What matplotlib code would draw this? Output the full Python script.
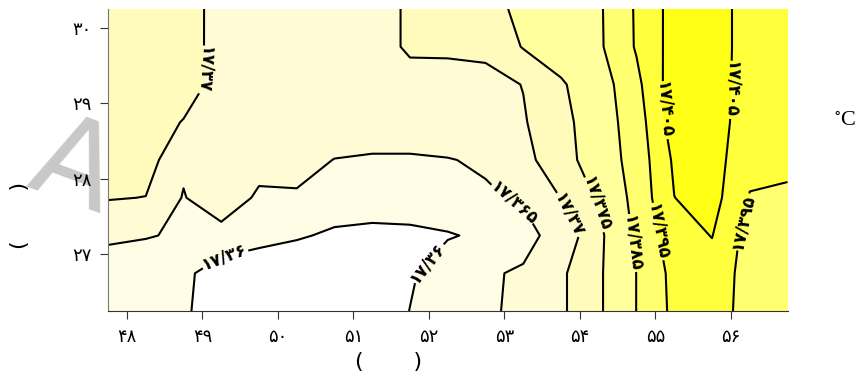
import numpy as np
import matplotlib
matplotlib.use('Agg')
import matplotlib.pyplot as plt

# grid (0.5 deg) and temperature field
lon = [47.75, 48.25, 48.75, 49.25, 49.75, 50.25, 50.75, 51.25, 51.75, 52.25,
       52.75, 53.25, 53.75, 54.25, 54.75, 55.25, 55.75, 56.25, 56.75]
lat = [26.25, 26.75, 27.25, 27.75, 28.25, 28.75, 29.25, 29.75, 30.25]

t_2625 = [17.3630, 17.3625, 17.3608, 17.3570, 17.3550, 17.3540, 17.3540, 17.3560, 17.3601, 17.3625,
          17.3643, 17.3660, 17.3693, 17.3737, 17.3851, 17.3973, 17.4000, 17.3910, 17.3900]
t_2675 = [17.3635, 17.3630, 17.3610, 17.3577, 17.3560, 17.3550, 17.3545, 17.3560, 17.3593, 17.3630,
          17.3644, 17.3656, 17.3693, 17.3737, 17.3851, 17.3979, 17.4010, 17.3910, 17.3900]
t_2725 = [17.3655, 17.3652, 17.3646, 17.3630, 17.3620, 17.3607, 17.3590, 17.3585, 17.3588, 17.3596,
          17.3609, 17.3632, 17.3673, 17.3730, 17.3867, 17.4007, 17.4053, 17.3910, 17.3900]
t_2775 = [17.3703, 17.3699, 17.3647, 17.3685, 17.3641, 17.3645, 17.3635, 17.3630, 17.3630, 17.3635,
          17.3644, 17.3656, 17.3701, 17.3757, 17.3881, 17.4049, 17.4087, 17.3947, 17.3930]
t_2825 = [17.3725, 17.3722, 17.3659, 17.3685, 17.3670, 17.3665, 17.3649, 17.3645, 17.3645, 17.3648,
          17.3656, 17.3690, 17.3720, 17.3790, 17.3890, 17.4065, 17.4100, 17.3965, 17.3978]
t_2875 = [17.3730, 17.3720, 17.3698, 17.3695, 17.3685, 17.3680, 17.3675, 17.3675, 17.3675, 17.3680,
          17.3685, 17.3697, 17.3725, 17.3798, 17.3900, 17.4100, 17.4120, 17.3973, 17.3990]
t_2925 = [17.3735, 17.3730, 17.3720, 17.3684, 17.3680, 17.3682, 17.3685, 17.3687, 17.3690, 17.3691,
          17.3688, 17.3701, 17.3741, 17.3800, 17.3925, 17.4104, 17.4130, 17.3973, 17.3990]
t_2975 = [17.3740, 17.3735, 17.3725, 17.3679, 17.3675, 17.3675, 17.3680, 17.3688, 17.3704, 17.3704,
          17.3709, 17.3753, 17.3790, 17.3834, 17.3959, 17.4089, 17.4130, 17.3979, 17.3995]
t_3025 = [17.3745, 17.3740, 17.3730, 17.3675, 17.3670, 17.3670, 17.3675, 17.3685, 17.3705, 17.3720,
          17.3738, 17.3758, 17.3800, 17.3836, 17.3961, 17.4088, 17.4130, 17.3979, 17.3995]

levels = [17.36, 17.365, 17.37, 17.375, 17.385, 17.395, 17.405]
level_text = ['۱۷/۳۶', '۱۷/۳۶۵', '۱۷/۳۷', '۱۷/۳۷۵', '۱۷/۳۸۵', '۱۷/۳۹۵', '۱۷/۴۰۵']
band_colors = ['#ffffff', '#fffde5', '#fffcd5', '#fffbbc', '#ffff9e', '#ffff70', '#ffff3c', '#ffff16']

xticks = [48, 49, 50, 51, 52, 53, 54, 55, 56]
xtick_labels = ['۴۸', '۴۹', '۵۰', '۵۱', '۵۲', '۵۳', '۵۴', '۵۵', '۵۶']
yticks = [27, 28, 29, 30]
ytick_labels = ['۲۷', '۲۸', '۲۹', '۳۰']

# where the contour labels sit (lon, lat) and whether they read downward
label_pos = [(49.30, 26.93), (52.01, 26.86), (53.11, 27.65), (49.03, 29.44),
             (53.84, 27.52), (54.19, 27.65), (54.69, 27.15), (55.02, 27.30),
             (56.16, 27.43), (55.13, 28.91), (56.00, 29.18)]
reads_down = [False, False, True, True, True, True, True, True, False, True, True]

Z = np.array([t_2625, t_2675, t_2725, t_2775, t_2825, t_2875, t_2925, t_2975, t_3025])
X, Y = np.meshgrid(lon, lat)

fig = plt.figure(figsize=(8.59, 3.85), dpi=100)
ax = fig.add_axes([108/859, 1-311/385, 679.5/859, 302/385])

# faint watermark behind the plot
fig.text(0.085, 0.56, 'A', fontsize=85, color='#c8c8c8', rotation=-20,
         ha='center', va='center', zorder=-5)
ax.set_zorder(1)

ax.contourf(X, Y, Z, levels=[17.0] + levels + [18.0], colors=band_colors)
cs = ax.contour(X, Y, Z, levels=levels, colors='black', linewidths=1.5)
fmt = dict(zip(cs.levels, level_text))
ax.clabel(cs, cs.levels, manual=label_pos, fmt=fmt, inline=True, fontsize=12,
          inline_spacing=4)
for t, down in zip(cs.labelTexts, reads_down):
    t.set_fontweight('bold')
    r = t.get_rotation() % 360
    if down and r < 180:
        t.set_rotation(r + 180)
    if not down and r > 180:
        t.set_rotation(r - 180)

ax.set_xlim(47.75, 56.75)
ax.set_ylim(26.25, 30.25)
ax.set_xticks(xticks)
ax.set_xticklabels(xtick_labels, fontsize=13)
ax.set_yticks(yticks)
ax.set_yticklabels(ytick_labels, fontsize=13)
ax.tick_params(direction='out', length=6, color='#333333', pad=6)
ax.spines['top'].set_visible(False)
ax.spines['right'].set_visible(False)
ax.spines['left'].set_color('#777777')
ax.spines['bottom'].set_color('#333333')

fig.text(389/859, 1-362/385, '(       )', fontsize=16, ha='center', va='center')
fig.text(20/859, 1-215/385, '(       )', fontsize=16, ha='center', va='center', rotation=90)
fig.text(845/859, 1-122/385, '$^{\\circ}$C', fontsize=16, ha='center', va='center',
         family='Liberation Serif', math_fontfamily='stix')

fig.savefig('out.png', dpi=100)
